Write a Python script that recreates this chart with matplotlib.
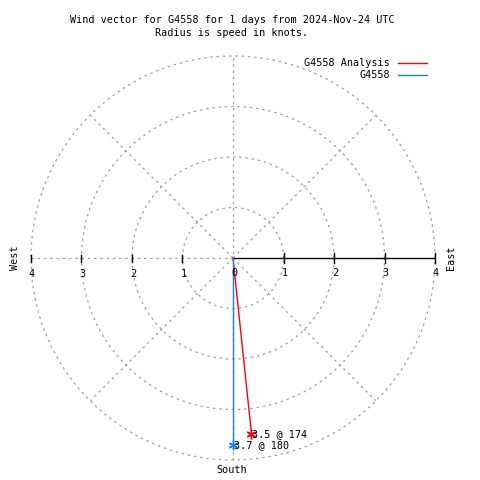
import numpy as np
import matplotlib
matplotlib.use("Agg")
import matplotlib.pyplot as plt

# Data
series_names = ["G4558 Analysis", "G4558"]
speeds = [3.5, 3.7]          # knots
directions = [174, 180]      # degrees
colors = ["#ff0000", "#1e80f0"]
ring_radii = [1, 2, 3, 4]
tick_values = [0, 1, 2, 3, 4]
title_lines = ["Wind vector for G4558 for 1 days from 2024-Nov-24 UTC",
               "Radius is speed in knots."]

FONT = "DejaVu Sans Mono"
FS = 7.3

fig = plt.figure(figsize=(4.8, 4.8), dpi=100)
ax = fig.add_axes([0, 0, 1, 1])
S = 50.5
cx, cy = 233, 258
ax.set_xlim(-cx / S, (480 - cx) / S)
ax.set_ylim((cy - 480) / S, cy / S)
ax.axis("off")

def px(x, y):
    return (x - cx) / S, (cy - y) / S

grey = "#a0a0a0"
dash = (0, (2, 3))
t = np.linspace(0, 2 * np.pi, 400)
for r in ring_radii:
    ax.plot(r * np.cos(t), r * np.sin(t), color=grey, lw=0.9, ls=dash)
R = max(ring_radii)
for a in [45, 135, 225, 315]:
    ax.plot([0, R * np.cos(np.radians(a))], [0, R * np.sin(np.radians(a))],
            color=grey, lw=0.9, ls=dash)
ax.plot([0, 0], [-R, R], color=grey, lw=0.9, ls=dash)
ax.plot([-R, 0], [0, 0], color=grey, lw=0.9, ls=dash)
ax.plot([0, R], [0, 0], color="black", lw=1.0)

tk = 5 / S
for v in tick_values[1:]:
    ax.plot([v, v], [-tk, tk], color="black", lw=1.0)
    ax.plot([-v, -v], [-tk * 0.7, tk * 0.7], color="black", lw=1.0)
for v in tick_values:
    ax.text(v + 1 / S, -15 / S, str(v), ha="center", va="center",
            family=FONT, fontsize=FS)
for v in tick_values[1:]:
    ax.text(-v + 1 / S, -16 / S, str(v), ha="center", va="center",
            family=FONT, fontsize=FS)

ax.text(*px(15, 258), "West", rotation=90, ha="center", va="center",
        family=FONT, fontsize=FS)
ax.text(*px(451, 258), "East", rotation=90, ha="center", va="center",
        family=FONT, fontsize=FS)
ax.text(*px(232, 470), "South", ha="center", va="center",
        family=FONT, fontsize=FS)

for l, yy in zip(title_lines, [20, 33]):
    ax.text(*px(232, yy), l, ha="center", va="center", family=FONT, fontsize=FS)

for name, spd, d, c, ly in zip(series_names, speeds, directions, colors, [63, 75]):
    x = spd * np.sin(np.radians(d))
    y = spd * np.cos(np.radians(d))
    ax.plot([0, x], [0, y], color=c, lw=1.0)
    ax.plot([x], [y], marker=(6, 2, 0), color=c, ms=7, mew=1.0)
    ax.text(x + 1 / S, y, f"{spd} @ {d}", ha="left", va="center",
            family=FONT, fontsize=FS)
    ax.text(*px(390, ly), name, ha="right", va="center", family=FONT, fontsize=FS)
    x0, y0 = px(398, ly)
    x1, _ = px(427, ly)
    ax.plot([x0, x1], [y0, y0], color=c, lw=1.0)

fig.savefig("out.png", dpi=100)
